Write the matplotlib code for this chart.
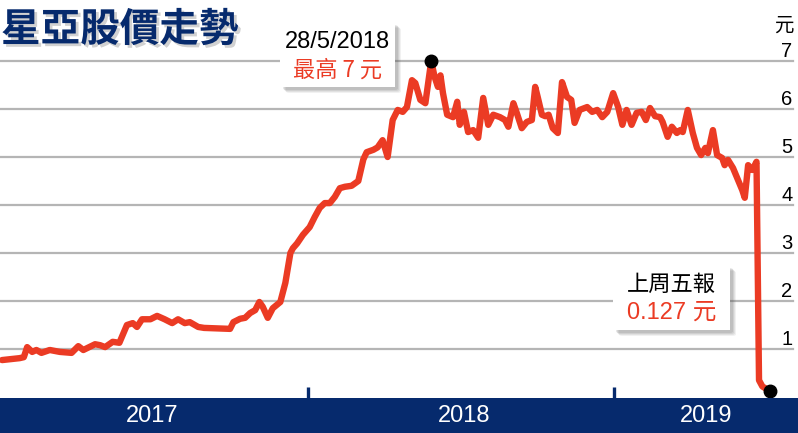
import matplotlib.pyplot as plt
import matplotlib.patches as mpatches
import matplotlib.patheffects as pe

# days since 1 Jan 2017 and closing price (HK$)
days = [0, 21, 26, 30, 36, 41, 47, 57, 69, 83, 91, 97, 111, 117, 123, 132, 140,
        149, 156, 161, 167, 177, 185, 194, 203, 210, 218, 224, 234, 241, 272, 276,
        284, 290, 296, 302, 307, 311, 317, 323, 332, 338, 344, 347, 352, 359, 367,
        373, 379, 385, 391, 397, 403, 409, 417, 425, 431, 435, 443, 448, 454, 460,
        466, 472, 478, 483, 489, 493, 499, 505, 512, 516, 520, 523, 526, 531, 538,
        543, 546, 551, 556, 562, 568, 574, 580, 586, 594, 600, 604, 610, 614, 620,
        626, 632, 636, 639, 644, 648, 652, 657, 663, 668, 674, 679, 683, 689, 698,
        704, 710, 716, 722, 729, 735, 740, 745, 751, 757, 763, 768, 773, 779, 785,
        788, 794, 799, 805, 809, 812, 818, 824, 829, 834, 839, 842, 848, 853, 859,
        862, 866, 872, 878, 883, 886, 890, 895, 900, 903, 907, 916]
price = [0.77, 0.81, 0.83, 1.04, 0.94, 0.98, 0.92, 0.98, 0.94, 0.92, 1.06, 0.98,
         1.10, 1.08, 1.04, 1.15, 1.13, 1.50, 1.54, 1.46, 1.62, 1.62, 1.69, 1.62,
         1.54, 1.62, 1.54, 1.56, 1.46, 1.44, 1.42, 1.56, 1.63, 1.65, 1.75, 1.81,
         1.98, 1.88, 1.65, 1.85, 1.98, 2.38, 3.00, 3.10, 3.20, 3.38, 3.54, 3.75,
         3.94, 4.04, 4.04, 4.17, 4.35, 4.38, 4.40, 4.50, 4.95, 5.10, 5.15, 5.20,
         5.35, 5.00, 5.77, 5.98, 5.94, 6.04, 6.60, 6.54, 6.19, 6.12, 7.00, 6.67,
         6.46, 6.70, 6.33, 5.88, 5.83, 6.15, 5.67, 5.94, 5.52, 5.56, 5.40, 6.23,
         5.67, 5.88, 5.83, 5.77, 5.63, 6.12, 5.92, 5.60, 5.73, 5.77, 6.46, 6.25,
         5.88, 5.85, 5.88, 5.60, 5.50, 6.56, 6.25, 6.19, 5.71, 5.98, 6.04, 5.94,
         5.98, 5.83, 5.94, 6.33, 6.04, 5.67, 5.98, 5.67, 5.92, 5.94, 5.77, 6.02,
         5.85, 5.83, 5.73, 5.42, 5.63, 5.50, 5.56, 5.52, 5.98, 5.50, 5.19, 5.04,
         5.19, 5.08, 5.56, 5.04, 4.98, 4.83, 4.94, 4.77, 4.52, 4.31, 4.15, 4.83,
         4.73, 4.90, 0.35, 0.22, 0.127]
years = ['2017', '2018', '2019']
year_centers = [179, 551, 840]   # day positions of the year labels
year_ticks = [365, 730]
yticks = [1, 2, 3, 4, 5, 6, 7]

peak_day, peak_price = 512, 7.0
title = '星亞股價走勢'

NAVY = '#062a6d'
RED = '#eb3b24'
CJK = ['Noto Sans CJK TC', 'DejaVu Sans']
LAT = ['Liberation Sans', 'Noto Sans CJK TC']

W, H = 798, 433
fig = plt.figure(figsize=(W / 100, H / 100), dpi=100)
fig.patch.set_facecolor('white')


def fx(px):
    return px / W


def fy(py):
    return 1 - py / H


ax = fig.add_axes([0, fy(398), 1, 398 / H])
ax.set_xlim(-2.4, 949.5)
ax.set_ylim(-0.02, 8.27)
for s in ax.spines.values():
    s.set_visible(False)

for y in yticks:
    ax.axhline(y, xmin=0, xmax=793 / W, color='#b5b5b5', lw=1.6, zorder=1)

ax.plot(days, price, color=RED, lw=4.6, solid_joinstyle='round',
        solid_capstyle='round', zorder=3)
ax.plot([peak_day, days[-1]], [peak_price, price[-1]], 'o', color='black',
        markersize=9, zorder=5)

ax.set_xticks(year_ticks)
ax.set_xticklabels([])
ax.tick_params(axis='x', direction='in', length=8, width=2.4, color=NAVY)

ax.yaxis.tick_right()
ax.set_yticks(yticks)
ax.set_yticklabels([str(v) for v in yticks], family=LAT, fontsize=14.5)
ax.tick_params(axis='y', length=0, pad=-4)
for lab in ax.get_yticklabels():
    lab.set_ha('right')
    lab.set_va('bottom')
ax.text(fx(794), fy(31), '元', transform=fig.transFigure, ha='right',
        va='baseline', fontsize=14, family=CJK)

# bottom band with years
band = fig.add_axes([0, 0, 1, fy(398)])
band.set_facecolor(NAVY)
band.set_xlim(ax.get_xlim())
band.set_ylim(0, 1)
band.set_xticks([])
band.set_yticks([])
for s in band.spines.values():
    s.set_visible(False)
for c, yr in zip(year_centers, years):
    band.text(c, 0.5, yr, color='white', ha='center', va='center',
              fontsize=17, family=LAT)

# title
fig.text(fx(1), fy(30), title, fontsize=28.5, fontweight='black', color=NAVY,
         family=CJK, ha='left', va='center',
         path_effects=[pe.withSimplePatchShadow(offset=(2, -2),
                                                shadow_rgbFace='0.6', alpha=0.45)])


def callout(x0, y0, x1, y1, top, bottom):
    # soft shadow: a few stacked, offset translucent rectangles
    for k, a in [(6, 0.08), (5, 0.1), (4, 0.12), (3, 0.14)]:
        sh = mpatches.FancyBboxPatch((fx(x0 + k), fy(y1 + k)), fx(x1 - x0),
                                     (y1 - y0) / H,
                                     boxstyle='round,pad=0,rounding_size=0.004',
                                     transform=fig.transFigure, facecolor='0.35',
                                     edgecolor='none', alpha=a, zorder=6)
        fig.add_artist(sh)
    box = mpatches.Rectangle((fx(x0), fy(y1)), fx(x1 - x0), (y1 - y0) / H,
                             transform=fig.transFigure, facecolor='white',
                             edgecolor='none', zorder=6.5)
    fig.add_artist(box)
    cx = fx((x0 + x1) / 2)
    fig.text(cx, fy(y0 + (y1 - y0) * 0.3), top[0], color='black', ha='center',
             va='center', fontsize=top[1], family=top[2], zorder=7)
    fig.text(cx, fy(y0 + (y1 - y0) * 0.74), bottom[0], color=RED, ha='center',
             va='center', fontsize=bottom[1], family=bottom[2], zorder=7)


callout(280, 22, 395, 87, ('28/5/2018', 17, LAT), ('最高 7 元', 16, CJK))
callout(613, 265, 730, 330, ('上周五報', 16, CJK), ('0.127 元', 17, LAT))

fig.savefig('out.png', dpi=100)
